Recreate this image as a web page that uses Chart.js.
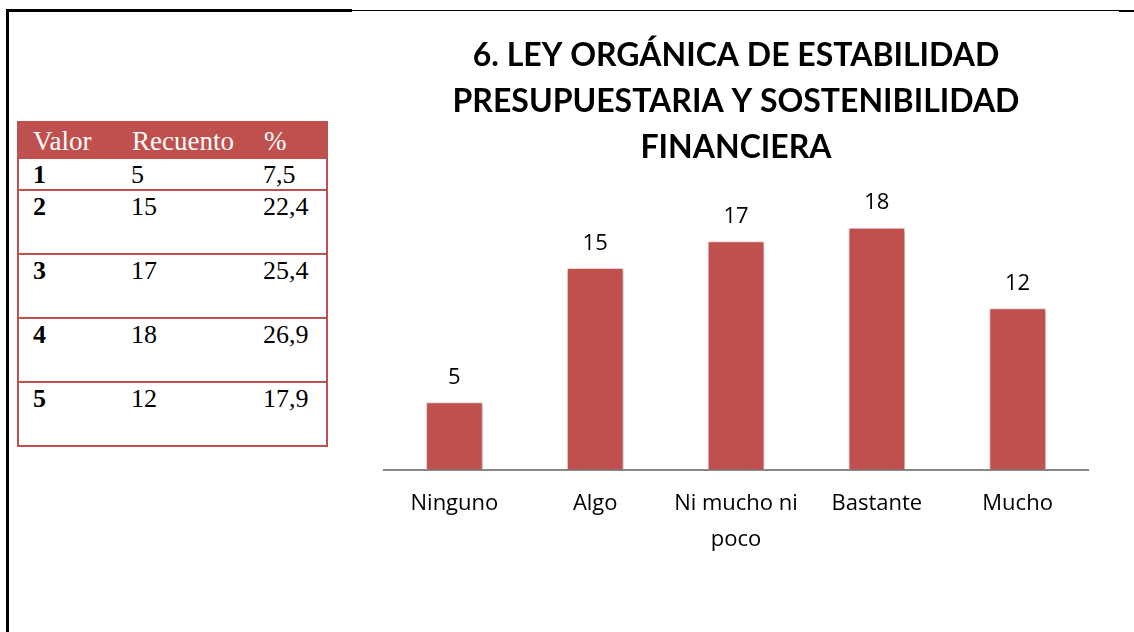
<!DOCTYPE html>
<html lang="es">
<head>
    <meta charset="UTF-8">
    <title>6. Ley Orgánica de Estabilidad Presupuestaria</title>
    <script src="https://cdn.jsdelivr.net/npm/chart.js"></script>
    <style>
        * { margin: 0; padding: 0; box-sizing: border-box; }
        body { width: 1134px; height: 632px; background: #fff; position: relative; overflow: hidden; }
        .line { position: absolute; background: #000; }
        .tabla {
            position: absolute; left: 17px; top: 121px; width: 309px;
            border-collapse: collapse; table-layout: fixed;
            font-family: 'Liberation Serif', 'Times New Roman', serif;
            font-size: 26px; color: #000;
        }
        .tabla th {
            background: #c0504d; color: #fff; font-weight: normal;
            text-align: left; height: 36px; padding: 2px 0 0 14px; font-size: 27px; line-height: 30px;
            border: 2px solid #c0504d;
        }
        .tabla td {
            border: 2px solid #c0504d; border-left: none; border-right: none;
            text-align: left; vertical-align: top; padding: 2px 0 0 14px; line-height: 28px;
        }
        .tabla tr td:first-child { border-left: 2px solid #c0504d; font-weight: bold; }
        .tabla tr td:last-child { border-right: 2px solid #c0504d; padding-left: 6px; }
        .tabla tr.corta td { height: 32px; }
        .tabla tr.alta td { height: 64px; }
        .chart-box { position: absolute; left: 360px; top: 20px; width: 750px; height: 580px; }
    </style>
</head>
<body>
    <div class="line" style="left:6px; top:9px; width:346px; height:3px;"></div>
    <div class="line" style="left:352px; top:10px; width:768px; height:1px;"></div>
    <div class="line" style="left:1119px; top:10px; width:15px; height:2px;"></div>
    <div class="line" style="left:6px; top:10px; width:3px; height:622px;"></div>

    <table class="tabla" id="tabla">
        <colgroup><col style="width:99px"><col style="width:140px"><col style="width:70px"></colgroup>
        <thead><tr><th>Valor</th><th>Recuento</th><th style="padding-left:6px">%</th></tr></thead>
        <tbody></tbody>
    </table>

    <div class="chart-box">
        <canvas id="grafico"></canvas>
    </div>

    <script>
        const categorias = ['Ninguno', 'Algo', ['Ni mucho ni', 'poco'], 'Bastante', 'Mucho'];
        const valores = ['1', '2', '3', '4', '5'];
        const recuento = [5, 15, 17, 18, 12];
        const porcentaje = ['7,5', '22,4', '25,4', '26,9', '17,9'];
        const titulo = ['6. LEY ORGÁNICA DE ESTABILIDAD', 'PRESUPUESTARIA Y SOSTENIBILIDAD', 'FINANCIERA'];

        // tabla de frecuencias
        const tbody = document.querySelector('#tabla tbody');
        valores.forEach((v, i) => {
            const tr = document.createElement('tr');
            tr.className = i === 0 ? 'corta' : 'alta';
            tr.innerHTML = '<td>' + v + '</td><td>' + recuento[i] + '</td><td>' + porcentaje[i] + '</td>';
            tbody.appendChild(tr);
        });

        const sombra = {
            id: 'sombra',
            beforeDatasetDraw(chart) {
                const ctx = chart.ctx;
                ctx.save();
                ctx.shadowColor = 'rgba(0,0,0,0.28)';
                ctx.shadowBlur = 5;
                ctx.shadowOffsetX = 2;
                ctx.shadowOffsetY = 2;
            },
            afterDatasetDraw(chart) {
                chart.ctx.restore();
            }
        };

        const etiquetas = {
            id: 'etiquetas',
            afterDatasetsDraw(chart) {
                const ctx = chart.ctx;
                const meta = chart.getDatasetMeta(0);
                ctx.save();
                ctx.font = '22px "Open Sans", sans-serif';
                ctx.fillStyle = '#000';
                ctx.textAlign = 'center';
                ctx.textBaseline = 'middle';
                meta.data.forEach((bar, i) => {
                    ctx.fillText(chart.data.datasets[0].data[i], bar.x, bar.y - 25);
                });
                ctx.restore();
            }
        };

        new Chart(document.getElementById('grafico'), {
            type: 'bar',
            data: {
                labels: categorias,
                datasets: [{
                    data: recuento,
                    backgroundColor: '#c0504d',
                    borderColor: '#f2dcdb',
                    borderWidth: 1,
                    barThickness: 56
                }]
            },
            options: {
                responsive: true,
                maintainAspectRatio: false,
                animation: false,
                layout: { padding: { left: 24, right: 22, top: 0, bottom: 26 } },
                plugins: {
                    legend: { display: false },
                    tooltip: { enabled: false },
                    title: {
                        display: true,
                        text: titulo,
                        color: '#000',
                        font: { family: 'Lato', size: 32, weight: 'bold', lineHeight: 1.43 },
                        padding: { top: 13, bottom: 31 }
                    }
                },
                scales: {
                    y: { display: false, min: 0, max: 20 },
                    x: {
                        grid: { display: false, drawTicks: false },
                        border: { display: true, color: '#868686', width: 2 },
                        ticks: {
                            color: '#000',
                            padding: 17,
                            font: { family: 'Open Sans', size: 22, lineHeight: 1.6 },
                            maxRotation: 0
                        }
                    }
                }
            },
            plugins: [sombra, etiquetas]
        });
    </script>
</body>
</html>
